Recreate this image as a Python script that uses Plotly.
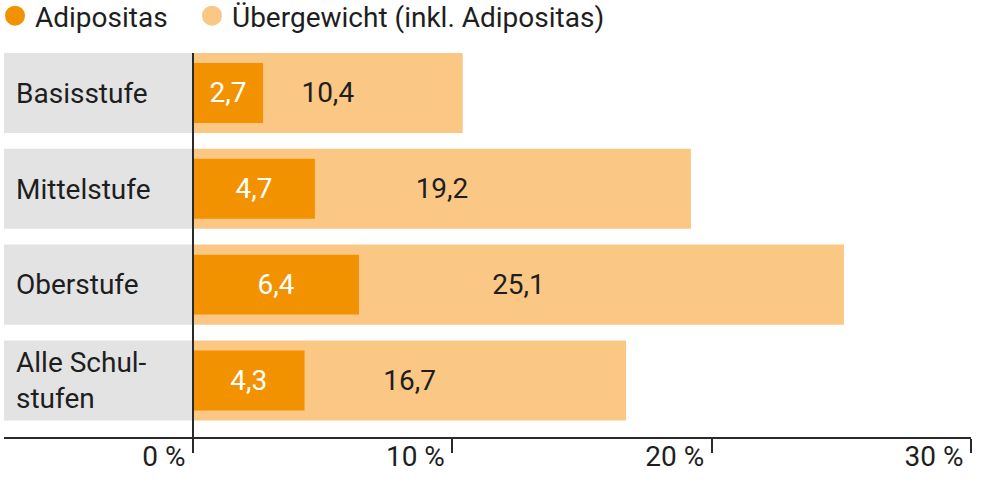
import plotly.graph_objects as go

# ---- data ----
categories = ["Basisstufe", "Mittelstufe", "Oberstufe", "Alle Schul-<br>stufen"]
adipositas = [2.7, 4.7, 6.4, 4.3]
uebergewicht = [10.4, 19.2, 25.1, 16.7]
series_names = ["Adipositas", "Übergewicht (inkl. Adipositas)"]
tick_values = [0, 10, 20, 30]
tick_labels = ["0 %", "10 %", "20 %", "30 %"]

# ---- style ----
DARK = "#F39200"
LIGHT = "#FAC785"
GREY = "#E3E3E3"
TEXT = "#1E1E1E"
AXIS = "#2A2A2A"
FONT = "Roboto"
FS = 28
X_MIN = -7.29
BAR_W = 0.835
INNER_W = 0.626

fig = go.Figure()

fig.add_trace(go.Bar(
    y=categories, x=uebergewicht, orientation="h", width=BAR_W,
    name=series_names[1], showlegend=False,
    marker=dict(color=LIGHT, line=dict(width=0)),
    texttemplate="%{x:.1f}", textposition="inside", insidetextanchor="middle",
    textfont=dict(color=TEXT, size=FS, family=FONT), hoverinfo="skip",
))
fig.add_trace(go.Bar(
    y=categories, x=adipositas, orientation="h", width=INNER_W,
    name=series_names[0], showlegend=False,
    marker=dict(color=DARK, line=dict(width=0)),
    texttemplate="%{x:.1f}", textposition="inside", insidetextanchor="middle",
    textfont=dict(color="#FFFFFF", size=FS, family=FONT), hoverinfo="skip",
))

# legend entries (circles), each in its own legend box
for name, col, leg in zip(series_names, [DARK, LIGHT], ["legend", "legend2"]):
    fig.add_trace(go.Scatter(
        x=[None], y=[None], mode="markers", name=name, legend=leg,
        marker=dict(symbol="circle", size=16, color=col,
                    line=dict(width=4, color=col)),
    ))

# grey label boxes
for i in range(len(categories)):
    fig.add_shape(
        type="rect", xref="x", yref="y",
        x0=X_MIN, x1=0, y0=i - BAR_W / 2, y1=i + BAR_W / 2,
        fillcolor=GREY, line=dict(width=0), layer="below",
    )

legend_style = dict(
    orientation="h", xanchor="left", y=1.0964, yanchor="middle",
    font=dict(size=FS, family=FONT, color=TEXT),
    bgcolor="rgba(0,0,0,0)", borderwidth=0,
)

fig.update_layout(
    width=988, height=494,
    margin=dict(l=4, r=17, t=53, b=57, autoexpand=False),
    paper_bgcolor="white", plot_bgcolor="white",
    barmode="overlay",
    separators=",.",
    font=dict(family=FONT, size=FS, color=TEXT),
    legend=dict(x=-0.0093, **legend_style),
    legend2=dict(x=0.1944, **legend_style),
    xaxis=dict(
        range=[X_MIN, 30], tickvals=tick_values, ticktext=tick_labels,
        ticks="outside", ticklen=14, tickwidth=1.5, tickcolor=AXIS,
        showline=True, linecolor=AXIS, linewidth=1.5,
        zeroline=True, zerolinecolor=AXIS, zerolinewidth=1.5,
        zerolinelayer="above traces",
        showgrid=False, ticklabelposition="outside left",
        ticklabelstandoff=-6, ticklabelshift=-6, automargin=False,
        tickfont=dict(size=FS, family=FONT, color=TEXT),
        fixedrange=True,
    ),
    yaxis=dict(
        type="category", range=[3.59, -0.417],
        showgrid=False, zeroline=False, showline=False, ticks="",
        ticklabelposition="inside", ticklabelstandoff=9, automargin=False,
        tickfont=dict(size=FS, family=FONT, color=TEXT),
        fixedrange=True,
    ),
)

fig.write_html(
    "out.html",
    config={"displayModeBar": False},
    post_script="document.body.style.margin='0';",
)
